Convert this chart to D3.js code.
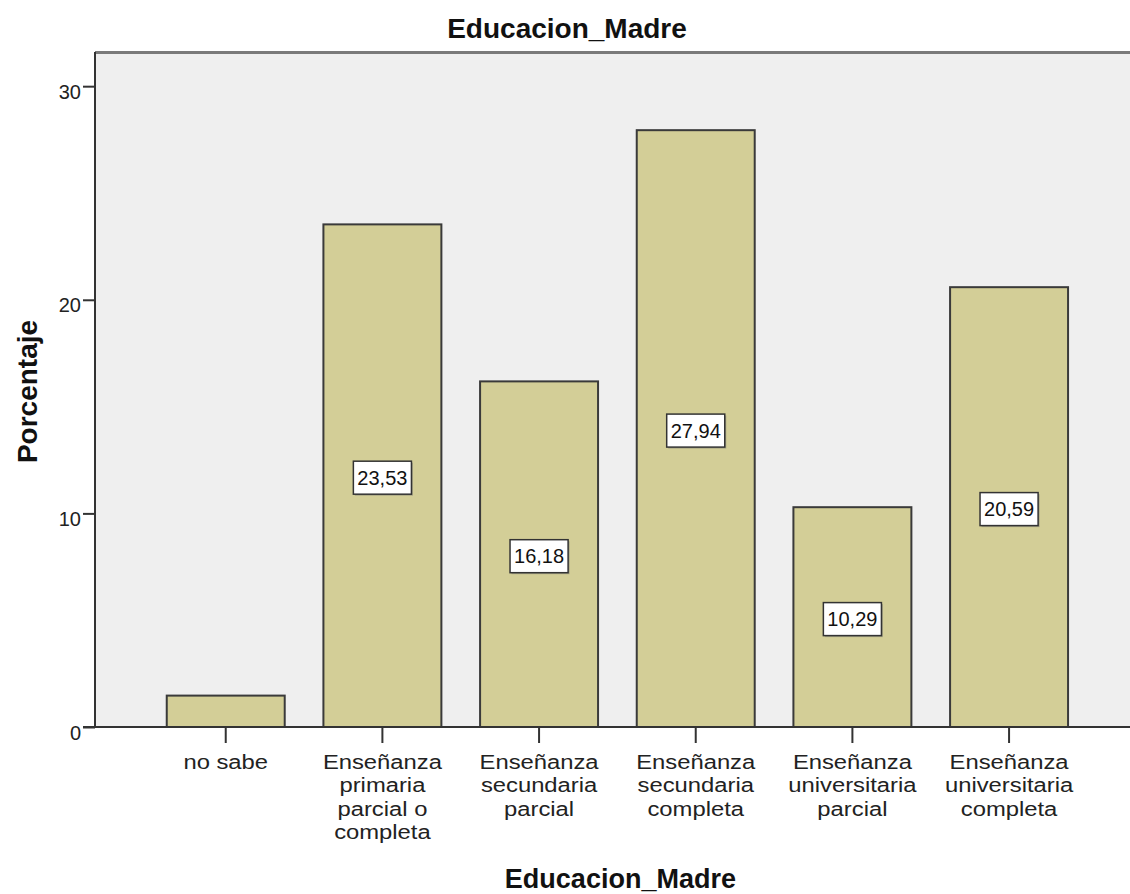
<!DOCTYPE html>
<html>
<head>
<meta charset="utf-8">
<script src="https://cdn.jsdelivr.net/npm/d3@7"></script>
<style>
  html, body { margin: 0; padding: 0; background: #ffffff; }
  svg { display: block; font-family: "Liberation Sans", Arial, sans-serif; }
</style>
</head>
<body>
<svg id="chart" width="1130" height="894"></svg>
<script>
// Mother's education level: percentage of respondents per category
const categories = [
  "no sabe",
  "Enseñanza primaria parcial o completa",
  "Enseñanza secundaria parcial",
  "Enseñanza secundaria completa",
  "Enseñanza universitaria parcial",
  "Enseñanza universitaria completa"
];
const categoryLines = [
  ["no sabe"],
  ["Enseñanza", "primaria", "parcial o", "completa"],
  ["Enseñanza", "secundaria", "parcial"],
  ["Enseñanza", "secundaria", "completa"],
  ["Enseñanza", "universitaria", "parcial"],
  ["Enseñanza", "universitaria", "completa"]
];
const percentages = [1.47, 23.53, 16.18, 27.94, 10.29, 20.59];
const yTicks = [0, 10, 20, 30];
const chartTitle = "Educacion_Madre";
const xTitle = "Educacion_Madre";
const yTitle = "Porcentaje";

const W = 1130, H = 894;
const plot = { left: 95, right: 1130, top: 52, bottom: 727 };

const svg = d3.select("#chart");

const x = d3.scaleBand()
  .domain(categories)
  .range([147.4, 1087.4])
  .paddingInner(0.247)
  .paddingOuter(0.1235);

const y = d3.scaleLinear()
  .domain([0, 31.6])
  .range([plot.bottom, plot.top]);

// plot background
svg.append("rect")
  .attr("x", plot.left).attr("y", plot.top)
  .attr("width", plot.right - plot.left)
  .attr("height", plot.bottom - plot.top)
  .attr("fill", "#efefef");

// top frame edge
svg.append("line")
  .attr("x1", plot.left).attr("x2", plot.right)
  .attr("y1", plot.top + 0.5).attr("y2", plot.top + 0.5)
  .attr("stroke", "#7a7a7a").attr("stroke-width", 3);

// bars
svg.append("g").selectAll("rect")
  .data(percentages)
  .join("rect")
  .attr("x", (d, i) => x(categories[i]))
  .attr("y", d => y(d))
  .attr("width", x.bandwidth())
  .attr("height", d => y(0) - y(d))
  .attr("fill", "#d3ce97")
  .attr("stroke", "#3a3a3a")
  .attr("stroke-width", 2);

// y axis
const yAxis = svg.append("g")
  .attr("transform", `translate(${plot.left},0)`)
  .call(d3.axisLeft(y).tickValues(yTicks).tickSize(12).tickSizeOuter(0).tickPadding(2));
yAxis.select(".domain").attr("stroke", "#333").attr("stroke-width", 2)
  .attr("d", `M0,${plot.top}V${plot.bottom}`);
yAxis.selectAll(".tick line").attr("stroke", "#333").attr("stroke-width", 2);
yAxis.selectAll(".tick text")
  .attr("font-size", 20)
  .attr("font-family", "'Liberation Sans', Arial, sans-serif")
  .attr("fill", "#222")
  .attr("dy", "0.6em");

// x axis ticks
const xAxis = svg.append("g")
  .attr("transform", `translate(0,${plot.bottom})`)
  .call(d3.axisBottom(x).tickSize(16).tickSizeOuter(0).tickFormat(""));
xAxis.select(".domain").remove();
xAxis.selectAll(".tick line").attr("stroke", "#333").attr("stroke-width", 2);

// baseline
svg.append("line")
  .attr("x1", plot.left - 12).attr("x2", plot.right)
  .attr("y1", plot.bottom).attr("y2", plot.bottom)
  .attr("stroke", "#333").attr("stroke-width", 2);

// multi-line category labels
const catG = svg.append("g");
categories.forEach((c, i) => {
  const cx = x(c) + x.bandwidth() / 2;
  const t = catG.append("g")
    .attr("transform", `translate(${cx},769) scale(1.19,1)`)
    .append("text")
    .attr("text-anchor", "middle")
    .attr("font-size", 20)
    .attr("fill", "#222");
  categoryLines[i].forEach((line, j) => {
    t.append("tspan").attr("x", 0).attr("y", j * 23.5).text(line);
  });
});

// value labels in boxes at bar mid-height
const fmt = v => d3.format(".2f")(v).replace(".", ",");
const labelG = svg.append("g");
percentages.forEach((v, i) => {
  const barH = y(0) - y(v);
  if (barH < 60) return;
  const cx = x(categories[i]) + x.bandwidth() / 2;
  const cy = y(v / 2) + 2;
  const g = labelG.append("g").attr("transform", `translate(${cx},${cy})`);
  const txt = g.append("text")
    .attr("text-anchor", "middle")
    .attr("dy", "0.36em")
    .attr("font-size", 20)
    .attr("fill", "#111")
    .text(fmt(v));
  const bw = txt.node().getComputedTextLength() + 8;
  const bh = 33;
  g.insert("rect", "text")
    .attr("x", -bw / 2 + 1.5).attr("y", -bh / 2 + 1.5)
    .attr("width", bw).attr("height", bh)
    .attr("fill", "#8a8a7a").attr("opacity", 0.6);
  g.insert("rect", "text")
    .attr("x", -bw / 2).attr("y", -bh / 2)
    .attr("width", bw).attr("height", bh)
    .attr("fill", "#ffffff")
    .attr("stroke", "#333").attr("stroke-width", 1.5);
});

// titles
svg.append("text")
  .attr("x", W / 2 + 2).attr("y", 38)
  .attr("text-anchor", "middle")
  .attr("font-size", 28).attr("font-weight", "bold")
  .attr("fill", "#111")
  .text(chartTitle);

svg.append("text")
  .attr("x", (x.range()[0] + x.range()[1]) / 2 + 3).attr("y", 888)
  .attr("text-anchor", "middle")
  .attr("font-size", 27).attr("font-weight", "bold")
  .attr("fill", "#111")
  .text(xTitle);

svg.append("text")
  .attr("transform", `translate(37,${(plot.top + plot.bottom) / 2 + 2}) rotate(-90)`)
  .attr("text-anchor", "middle")
  .attr("font-size", 28).attr("font-weight", "bold")
  .attr("fill", "#111")
  .text(yTitle);
</script>
</body>
</html>
